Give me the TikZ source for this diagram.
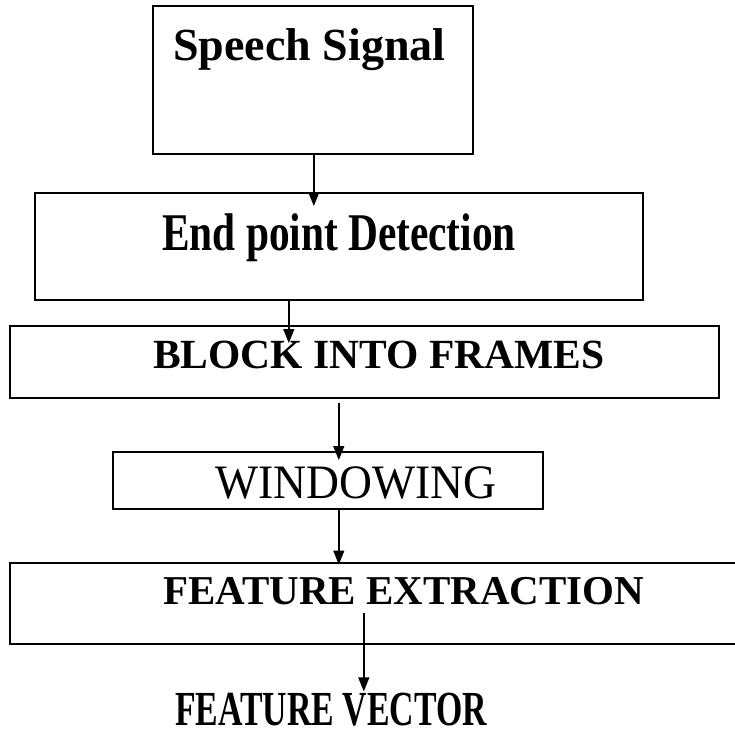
\documentclass[tikz,border=0pt]{standalone}
\usepackage{fontspec}
\setmainfont{Liberation Serif}
\usetikzlibrary{arrows.meta}
\begin{document}
\begin{tikzpicture}[x=1pt,y=-1pt,
  box/.style={draw,line width=1.6pt,inner sep=0pt,anchor=north west},
  lbl/.style={inner sep=0pt,anchor=base west},
  arr/.style={line width=1.4pt,-{Triangle[length=14pt,width=11pt]}}]
\useasboundingbox (0,0) rectangle (735,729);
\clip (0,0) rectangle (735,729);
% boxes
\node[box,minimum width=320pt,minimum height=148pt] (b1) at (152,5) {};
\node[box,minimum width=608pt,minimum height=107pt] (b2) at (34,192) {};
\node[box,minimum width=709pt,minimum height=72pt] (b3) at (9,325) {};
\node[box,minimum width=430pt,minimum height=57pt] (b4) at (112,451) {};
\node[box,minimum width=760pt,minimum height=81pt] (b5) at (9,562) {};
% texts
\node[lbl,font=\bfseries\fontsize{46}{50}\selectfont] (t1) at (173,60) {Speech Signal};
\node[lbl,font=\bfseries\fontsize{53}{56}\selectfont] (t2) at (162,250) {\scalebox{0.78}[1]{End point Detection}};
\node[lbl,font=\bfseries\fontsize{41.5}{45}\selectfont] (t3) at (153,368) {BLOCK INTO FRAMES};
\node[lbl,font=\fontsize{48}{52}\selectfont] (t4) at (215,498) {\scalebox{0.95}[1]{WINDOWING}};
\node[lbl,font=\bfseries\fontsize{41}{45}\selectfont] (t5) at (163,604) {FEATURE EXTRACTION};
\node[lbl,font=\bfseries\fontsize{49}{52}\selectfont] (fv) at (175,725) {\scalebox{0.69}[1]{FEATURE VECTOR}};
% arrow start points
\coordinate (a1) at ([xshift=1pt]b1.south);
\coordinate (a2) at ([xshift=-50pt]b2.south);
\coordinate (a3) at ([xshift=-25.5pt,yshift=-4pt]b3.south);
\coordinate (a4) at ([xshift=11pt]b4.south);
\coordinate (a5) at ([xshift=-26pt,yshift=-51pt]b5.north);
% arrows
\draw[arr] (a1) -- ([yshift=-14pt]a1 |- b2.north);
\draw[arr] (a2) -- ([yshift=-18pt]a2 |- b3.north);
\draw[arr] (a3) -- ([yshift=-9pt]a3 |- b4.north);
\draw[arr] (a4) -- ([yshift=-2.5pt]a4 |- b5.north);
\draw[arr] (a5) -- ([yshift=1pt]a5 |- fv.north);
\end{tikzpicture}
\end{document}
